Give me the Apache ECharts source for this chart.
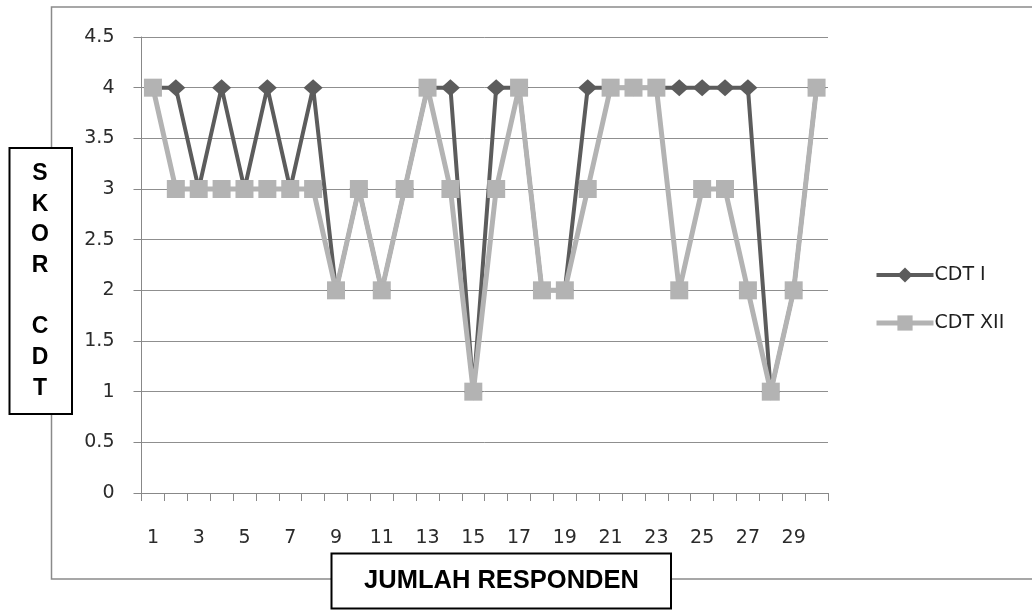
<!DOCTYPE html>
<html>
<head>
<meta charset="utf-8">
<script src="https://cdn.jsdelivr.net/npm/echarts@6/dist/echarts.min.js"></script>
<style>
html,body{margin:0;padding:0;background:#fff;}
#c{width:1032px;height:610px;}
</style>
</head>
<body>
<div id="c"></div>
<script>
const categories = ['1','2','3','4','5','6','7','8','9','10','11','12','13','14','15','16','17','18','19','20','21','22','23','24','25','26','27','28','29','30'];
const cdtI   = [4,4,3,4,3,4,3,4,2,3,2,3,4,4,1,4,4,2,2,4,4,4,4,4,4,4,4,1,2,4];
const cdtXII = [4,3,3,3,3,3,3,3,2,3,2,3,4,3,1,3,4,2,2,3,4,4,4,2,3,3,2,1,2,4];
const seriesNames = ['CDT I','CDT XII'];
const yTitle = 'S\nK\nO\nR\n\nC\nD\nT';
const xTitle = 'JUMLAH RESPONDEN';

const chart = echarts.init(document.getElementById('c'), null, {renderer:'canvas'});
const axisGray = '#888888';
const labelFont = 'DejaVu Sans';
const darkColor = '#5c5c5c';
const lightColor = '#b3b3b3';
chart.setOption({
  animation: false,
  backgroundColor: '#ffffff',
  grid: {left: 141.5, right: 204, top: 37, bottom: 117, containLabel: false},
  xAxis: {
    type: 'category',
    data: categories,
    boundaryGap: true,
    axisLine: {show: true, lineStyle: {color: axisGray, width: 1}},
    axisTick: {show: true, interval: 0, length: 8, lineStyle: {color: axisGray, width: 1}},
    axisLabel: {interval: 1, margin: 36, color: '#2b2b2b', fontFamily: labelFont, fontSize: 19},
    splitLine: {show: false}
  },
  yAxis: {
    type: 'value',
    min: 0, max: 4.5, interval: 0.5,
    axisLine: {show: true, lineStyle: {color: axisGray, width: 1}},
    axisTick: {show: true, length: 8, lineStyle: {color: axisGray, width: 1}},
    axisLabel: {margin: 27, color: '#2b2b2b', fontFamily: labelFont, fontSize: 19},
    splitLine: {show: true, lineStyle: {color: '#8f8f8f', width: 1}}
  },
  legend: {
    orient: 'vertical',
    left: 869, top: 260,
    itemWidth: 57, itemHeight: 19, itemGap: 28,
    textStyle: {color: '#1f1f1f', fontFamily: labelFont, fontSize: 19, lineHeight: 20, padding: [0,0,0,-4]},
    data: [
      {name: seriesNames[0], lineStyle: {width: 4, color: darkColor}},
      {name: seriesNames[1], lineStyle: {width: 5, color: lightColor}}
    ]
  },
  series: [
    {
      name: seriesNames[0], type: 'line', data: cdtI,
      symbol: 'diamond', symbolSize: [19,17], showAllSymbol: true,
      itemStyle: {color: darkColor},
      lineStyle: {color: darkColor, width: 4},
      z: 2
    },
    {
      name: seriesNames[1], type: 'line', data: cdtXII,
      symbol: 'rect', symbolSize: 18, showAllSymbol: true,
      itemStyle: {color: lightColor},
      lineStyle: {color: lightColor, width: 5},
      z: 3
    }
  ],
  graphic: [
    {type: 'rect', z: 0, silent: true,
     shape: {x: 51.5, y: 7, width: 1100, height: 572},
     style: {fill: 'none', stroke: '#8a8a8a', lineWidth: 1.5}},
    {type: 'rect', z: 10, silent: true,
     shape: {x: 9.5, y: 148, width: 62.5, height: 266},
     style: {fill: '#ffffff', stroke: '#000000', lineWidth: 2}},
    {type: 'text', z: 11, silent: true, x: 40, y: 281,
     style: {text: yTitle, font: 'bold 23px "Liberation Sans"', fill: '#000000',
             align: 'center', verticalAlign: 'middle', lineHeight: 30.7}},
    {type: 'rect', z: 10, silent: true,
     shape: {x: 331.5, y: 553.5, width: 339.5, height: 55},
     style: {fill: '#ffffff', stroke: '#000000', lineWidth: 2}},
    {type: 'text', z: 11, silent: true, x: 501.5, y: 581,
     style: {text: xTitle, font: 'bold 25.5px "Liberation Sans"', fill: '#000000',
             align: 'center', verticalAlign: 'middle'}}
  ]
});
</script>
</body>
</html>
